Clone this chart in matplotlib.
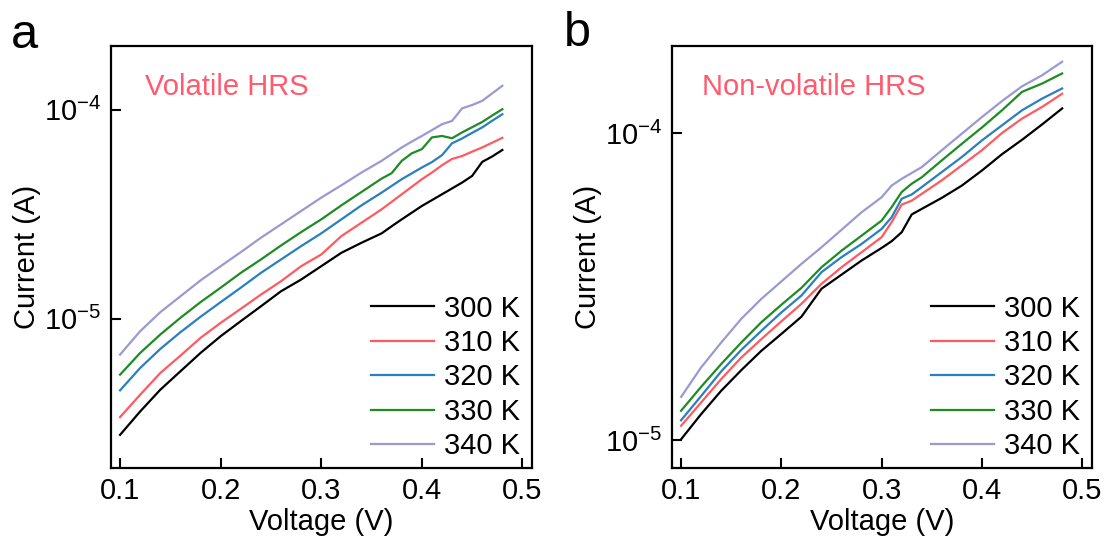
import matplotlib
matplotlib.use("Agg")
import matplotlib.pyplot as plt
from matplotlib.ticker import NullLocator
import numpy as np

plt.rcParams['font.family'] = ['Liberation Sans', 'DejaVu Sans']
plt.rcParams['mathtext.fontset'] = 'custom'
plt.rcParams['mathtext.rm'] = 'Liberation Sans'
plt.rcParams['mathtext.it'] = 'Liberation Sans:italic'
plt.rcParams['axes.unicode_minus'] = True

labels = ['300 K', '310 K', '320 K', '330 K', '340 K']
colors = ['#000000', '#ff5a5f', '#2a7fc0', '#1e8c23', '#9a9ad2']

# panel a: volatile HRS, log10 of current (A)
v_a = [0.10, 0.12, 0.14, 0.16, 0.18, 0.20, 0.22, 0.24, 0.26, 0.28, 0.30, 0.32, 0.34,
       0.36, 0.37, 0.38, 0.39, 0.40, 0.41, 0.42, 0.43, 0.44, 0.45, 0.46, 0.47, 0.48]
log_a_300 = [-5.555, -5.443, -5.339, -5.251, -5.163, -5.083, -5.011, -4.940, -4.868, -4.812,
             -4.748, -4.684, -4.636, -4.591, -4.557, -4.524, -4.492, -4.460, -4.432, -4.404,
             -4.376, -4.348, -4.316, -4.249, -4.223, -4.192]
log_a_310 = [-5.470, -5.363, -5.259, -5.176, -5.091, -5.019, -4.952, -4.884, -4.820, -4.748,
             -4.692, -4.604, -4.540, -4.476, -4.440, -4.404, -4.368, -4.332, -4.300, -4.265,
             -4.235, -4.221, -4.200, -4.180, -4.157, -4.134]
log_a_320 = [-5.342, -5.235, -5.144, -5.064, -4.990, -4.920, -4.851, -4.780, -4.716, -4.652,
             -4.591, -4.524, -4.457, -4.396, -4.364, -4.332, -4.304, -4.276, -4.250, -4.217,
             -4.160, -4.137, -4.110, -4.084, -4.052, -4.021]
log_a_330 = [-5.267, -5.163, -5.075, -4.995, -4.920, -4.851, -4.780, -4.716, -4.649, -4.585,
             -4.524, -4.457, -4.393, -4.329, -4.303, -4.244, -4.208, -4.188, -4.132, -4.125,
             -4.136, -4.108, -4.083, -4.058, -4.027, -3.997]
log_a_340 = [-5.171, -5.059, -4.968, -4.892, -4.816, -4.748, -4.681, -4.612, -4.548, -4.484,
             -4.420, -4.361, -4.300, -4.244, -4.212, -4.180, -4.152, -4.125, -4.097, -4.069,
             -4.053, -3.993, -3.977, -3.957, -3.921, -3.885]

# panel b: non-volatile HRS
v_b = [0.10, 0.12, 0.14, 0.16, 0.18, 0.20, 0.22, 0.24, 0.26, 0.28, 0.30, 0.31, 0.32, 0.33,
       0.34, 0.36, 0.38, 0.40, 0.42, 0.44, 0.46, 0.48]
log_b_300 = [-4.997, -4.915, -4.839, -4.772, -4.709, -4.654, -4.598, -4.507, -4.461, -4.415,
             -4.374, -4.352, -4.323, -4.265, -4.247, -4.211, -4.171, -4.122, -4.069, -4.022,
             -3.972, -3.920]
log_b_310 = [-4.953, -4.877, -4.801, -4.731, -4.671, -4.613, -4.556, -4.491, -4.437, -4.388,
             -4.339, -4.290, -4.233, -4.220, -4.198, -4.154, -4.105, -4.056, -4.000, -3.953,
             -3.915, -3.872]
log_b_320 = [-4.935, -4.856, -4.776, -4.706, -4.644, -4.584, -4.529, -4.453, -4.404, -4.361,
             -4.312, -4.274, -4.214, -4.200, -4.176, -4.127, -4.078, -4.024, -3.975, -3.926,
             -3.888, -3.855]
log_b_330 = [-4.904, -4.826, -4.752, -4.682, -4.616, -4.559, -4.504, -4.437, -4.383, -4.334,
             -4.285, -4.241, -4.192, -4.165, -4.144, -4.089, -4.035, -3.982, -3.926, -3.866,
             -3.839, -3.806]
log_b_340 = [-4.859, -4.763, -4.682, -4.605, -4.540, -4.483, -4.426, -4.372, -4.315, -4.258,
             -4.209, -4.171, -4.149, -4.130, -4.111, -4.056, -4.002, -3.948, -3.896, -3.848,
             -3.812, -3.768]

fig = plt.figure(figsize=(11.07, 5.45), dpi=100)
ax_a = fig.add_axes([0.100, 0.1418, 0.3806, 0.7738])
ax_b = fig.add_axes([0.6068, 0.1418, 0.3794, 0.7738])

panels = [
    (ax_a, v_a, [log_a_300, log_a_310, log_a_320, log_a_330, log_a_340],
     (1.94e-6, 2.02e-4), 'Volatile HRS', 0.082),
    (ax_b, v_b, [log_b_300, log_b_310, log_b_320, log_b_330, log_b_340],
     (8.14e-6, 1.92e-4), 'Non-volatile HRS', 0.072),
]

for ax, v, series, ylim, title, tx in panels:
    for lg, c, lab in zip(series, colors, labels):
        ax.plot(v, 10 ** np.array(lg), color=c, lw=1.6, label=lab)
    ax.set_yscale('log')
    ax.set_xlim(0.0907, 0.5095)
    ax.set_ylim(*ylim)
    ax.set_xticks([0.1, 0.2, 0.3, 0.4, 0.5])
    ax.set_xticklabels(['0.1', '0.2', '0.3', '0.4', '0.5'])
    ax.yaxis.set_minor_locator(NullLocator())
    ax.tick_params(direction='in', length=7, width=1.5, labelsize=21, pad=7)
    for s in ax.spines.values():
        s.set_linewidth(1.6)
    ax.set_xlabel('Voltage (V)', fontsize=21, labelpad=2)
    ax.set_ylabel('Current (A)', fontsize=21, labelpad=2)
    ax.text(tx, 0.935, title, transform=ax.transAxes, color='#ff5a6e',
            fontsize=21, va='top', ha='left')
    ax.legend(loc='lower right', frameon=False, fontsize=21, handlelength=2.15,
              handletextpad=0.35, labelspacing=0.22, borderaxespad=0.0,
              bbox_to_anchor=(1.0, -0.01))

fig.text(0.010, 0.912, 'a', fontsize=35, va='baseline', ha='left')
fig.text(0.509, 0.915, 'b', fontsize=35, va='baseline', ha='left')

fig.savefig('out.png', dpi=100)
